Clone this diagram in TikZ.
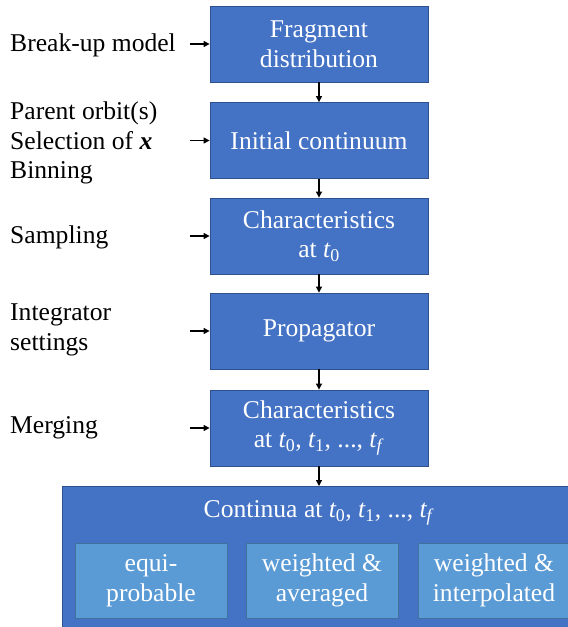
\documentclass[tikz,border=0pt]{standalone}
\usepackage{fix-cm}
\usepackage{amsmath}
\usepackage{fontspec}
\setmainfont{Liberation Serif}
\newfontfamily\tnr{Liberation Serif}
\usetikzlibrary{arrows.meta}
\definecolor{mainblue}{HTML}{4472C4}
\definecolor{mainedge}{HTML}{2F528F}
\definecolor{subblue}{HTML}{5B9BD5}
\definecolor{subedge}{HTML}{41719C}
\newcommand{\tv}[1]{$\textit{t}_{\text{#1}}$}
\tikzset{
  txt/.style={font=\tnr\fontsize{25.6}{29.5}\selectfont},
  stepbox/.style={txt, draw=mainedge, line width=0.8pt, fill=mainblue, text=white,
    minimum width=218pt, minimum height=76pt, inner sep=0pt, align=center},
  subbox/.style={txt, draw=subedge, line width=0.8pt, fill=subblue, text=white,
    minimum width=152pt, minimum height=75pt, inner sep=0pt, align=center},
  bigbox/.style={draw=mainedge, line width=0.8pt, fill=mainblue},
  lbl/.style={txt, anchor=west, align=left, inner sep=0pt},
  conn/.style={line width=1.2pt, -{Triangle[width=6pt,length=6pt]}},
}
\begin{document}
\begin{tikzpicture}[x=1pt,y=-1pt]
\useasboundingbox (0,0) rectangle (568,627);
\begin{scope}
\clip (0,0) rectangle (568,627);
\node[bigbox, minimum width=514pt, minimum height=160pt, anchor=north west, inner sep=0pt] (big) at (62,486) {};
\node[txt, text=white] (bigt) at (319,513) {Continua at \tv{0}, \tv{1}, ..., \tv{\textit{f}}};
\node[subbox] (s1) at (151,580.5) {equi-\\probable};
\node[subbox] (s2) at (322,580.5) {weighted \&\\averaged};
\node[subbox] (s3) at (494,580.5) {weighted \&\\interpolated};
\end{scope}

\node[stepbox] (b1) at (319,44) {Fragment\\distribution};
\node[stepbox] (b2) at (319,140.5) {Initial continuum};
\node[stepbox] (b3) at (319,236) {Characteristics\\at \tv{0}};
\node[stepbox] (b4) at (319,331) {Propagator};
\node[stepbox] (b5) at (319,428) {Characteristics\\at \tv{0}, \tv{1}, ..., \tv{\textit{f}}};

\node[lbl] (l1) at (10,45) {Break-up model};
\node[lbl] (l2) at (10,143) {Parent orbit(s)\\Selection of \textbf{\textit{x}}\\Binning};
\node[lbl] (l3) at (10,237) {Sampling};
\node[lbl] (l4) at (10,330) {Integrator\\settings};
\node[lbl] (l5) at (10,428) {Merging};

\coordinate (a1) at (190,44);
\coordinate (a2) at (190,140.5);
\coordinate (a3) at (190,236);
\coordinate (a4) at (190,331);
\coordinate (a5) at (190,428);
\foreach \i in {1,...,5} {\draw[conn] (a\i) -- (b\i.west);}

\draw[conn] (b1.south) -- (b2.north);
\draw[conn] (b2.south) -- (b3.north);
\draw[conn] (b3.south) -- (b4.north);
\draw[conn] (b4.south) -- (b5.north);
\draw[conn] (b5.south) -- (b5.south |- big.north);
\end{tikzpicture}
\end{document}
